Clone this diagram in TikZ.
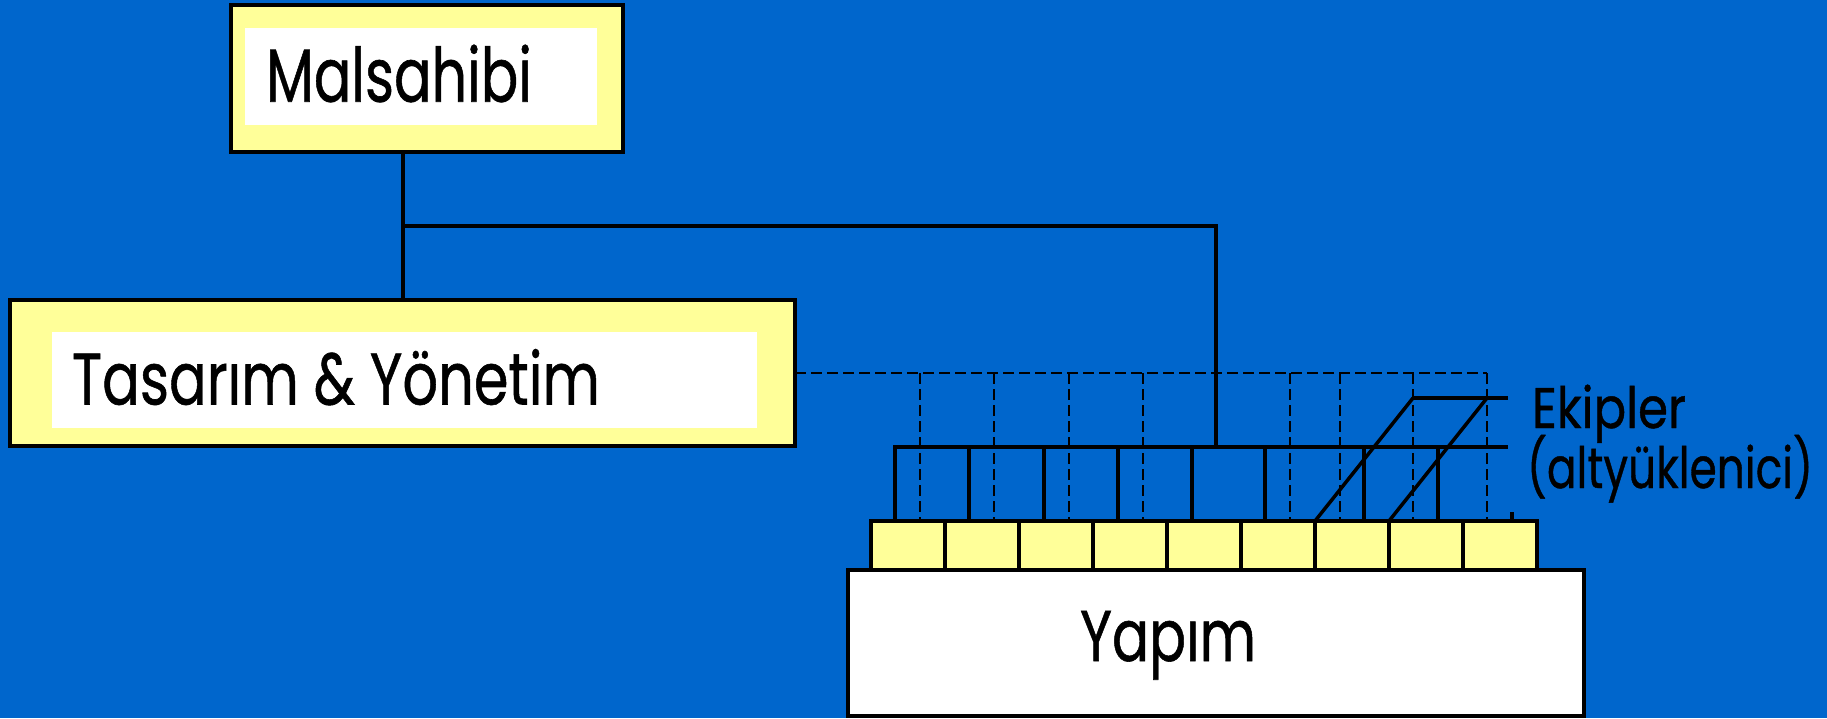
\documentclass[tikz,border=0pt]{standalone}
\usepackage{graphicx}
\usepackage{fontspec}
\setmainfont{Poppins}[FakeBold=0.8]
\definecolor{bg}{RGB}{0,102,204}
\definecolor{pale}{RGB}{255,255,153}
\newcommand\mytxt[3]{\resizebox{#1}{\height}{\fontsize{#2}{#2}\selectfont\addfontfeature{FakeBold=0.8}#3}}
\begin{document}
\begin{tikzpicture}[x=1pt,y=-1pt,
  outerbox/.style={draw=black,line width=4pt,fill=pale,inner sep=0pt,outer sep=0pt},
  innerbox/.style={fill=white,inner sep=0pt,outer sep=0pt},
  whitebox/.style={draw=black,line width=4pt,fill=white,inner sep=0pt,outer sep=0pt},
  cell/.style={draw=black,line width=3.5pt,fill=pale,inner sep=0pt,outer sep=0pt,minimum width=74pt,minimum height=49pt},
  conn/.style={line width=3.5pt,draw=black},
  dashconn/.style={line width=1.4pt,draw=black,dash pattern=on 11pt off 5pt},
  lbl/.style={inner sep=0pt,outer sep=0pt,anchor=base west,text=black}]
\useasboundingbox (0,0) rectangle (1827,718);
\fill[bg] (0,0) rectangle (1827,718);

% dashed grid
\coordinate (dR) at (1487,373);
\foreach \x in {920,994,1069,1143,1290,1340,1413,1487}
  \draw[dashconn] (\x,373) -- (\x,521);

% boxes
\node[outerbox,minimum width=392pt,minimum height=147pt] (mal) at (427,78.5) {};
\node[innerbox,minimum width=352pt,minimum height=97pt] (malin) at (421,76.5) {};
\node[lbl] (maltxt) at (266,101.7) {\mytxt{266pt}{75pt}{Malsahibi}};

\node[outerbox,minimum width=785.5pt,minimum height=146pt] (tas) at (402.25,373) {};
\node[innerbox,minimum width=705pt,minimum height=96pt] (tasin) at (404.5,380) {};
\node[lbl] (tastxt) at (72,404.5) {\mytxt{528pt}{73pt}{Tasarım \& Yönetim}};

\draw[dashconn] (tas.east) -- (dR);

% main connectors
\coordinate (j1) at (403,226);
\coordinate (bj) at (1216,447);
\draw[conn] (j1 |- mal.south) -- (j1 |- tas.north);
\draw[conn] (j1) -| (bj);

% bus and feeders
\coordinate (busL) at (895,447);
\coordinate (busR) at (1508,447);
\draw[conn] (895,521) -- (busL) -- (busR);
\foreach \x in {969,1044,1118,1192,1265,1364,1438}
  \draw[conn] (\x,447) -- (\x,521);

% Ekipler bracket
\coordinate (eA) at (1413,398);
\coordinate (eB) at (1508,398);
\draw[conn] (eA) -- (eB);
\draw[conn] (1315,521) -- (eA);
\draw[conn] (1389,521) -- (1487,398);
\draw[conn] (1512,512) -- (1512,521);

% cells
\foreach \i in {0,...,8}
  \node[cell] (c\i) at ({908+74*\i},545.5) {};

% Yapim
\node[whitebox,minimum width=736pt,minimum height=146pt] (yap) at (1216,643) {};
\node[lbl] (yaptxt) at (1080,661) {\mytxt{176pt}{72pt}{Yapım}};

% labels
\node[lbl] (ek1) at (1532,428) {\mytxt{154pt}{57pt}{Ekipler}};
\node[lbl] (ek2) at (1527,488) {\mytxt{286pt}{57pt}{(altyüklenici)}};
\end{tikzpicture}
\end{document}
